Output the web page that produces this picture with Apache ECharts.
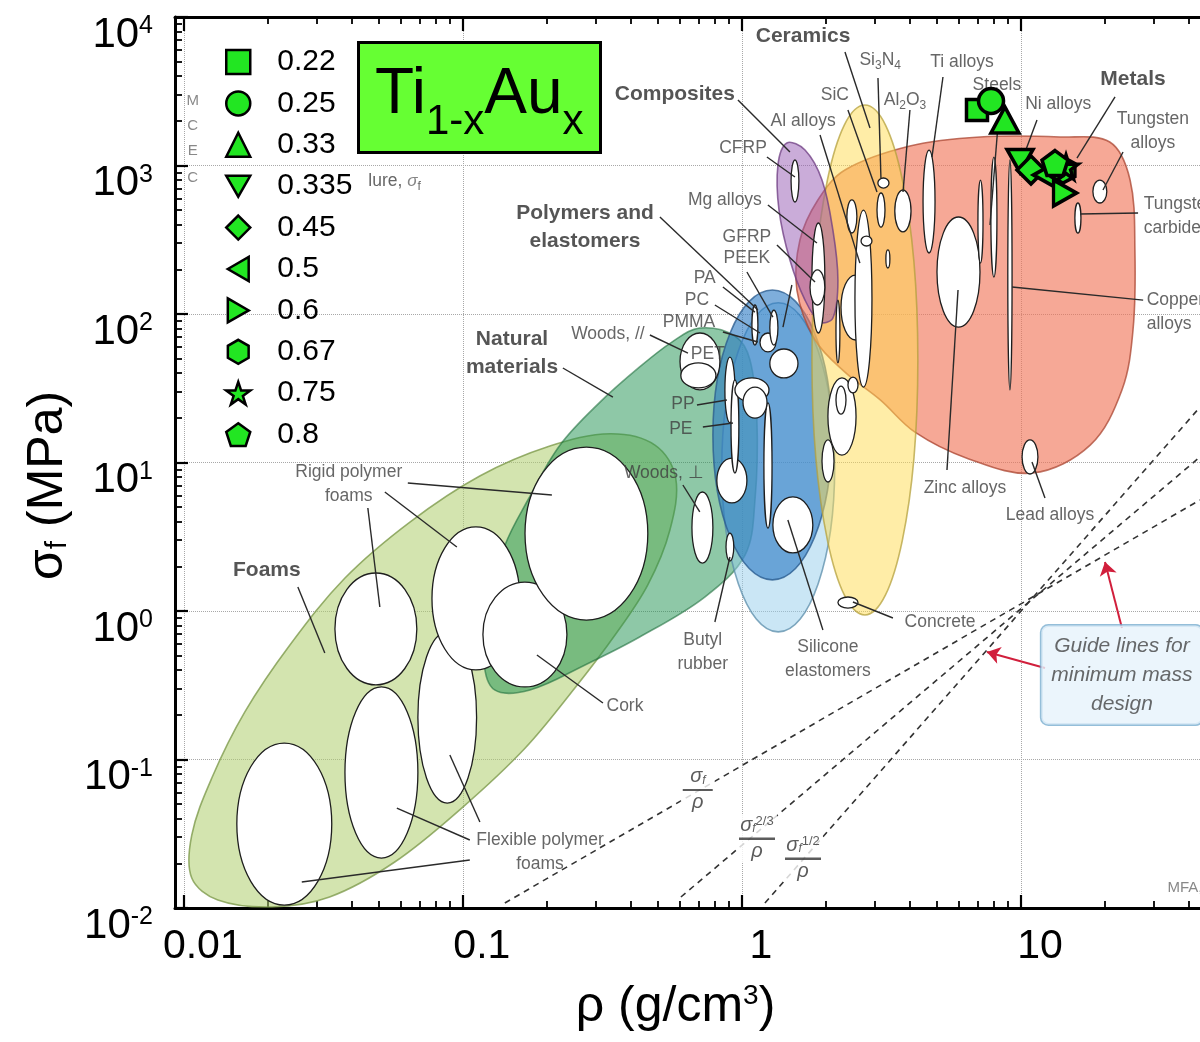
<!DOCTYPE html>
<html><head><meta charset="utf-8">
<script src="https://cdn.jsdelivr.net/npm/echarts@6/dist/echarts.min.js"></script>
<style>html,body{margin:0;padding:0;background:#fff}#c{width:1200px;height:1042px}</style>
</head><body><div id="c"></div>
<script>
const FONT = "'Liberation Sans', Arial, Helvetica, sans-serif";

// ---------- axes ----------
const X_MIN = 0.0093, X_MAX = 43.8, Y_MIN = 0.01, Y_MAX = 10000;
const xMajorTicks = [0.01, 0.1, 1, 10];
const xTickLabels = ['0.01', '0.1', '1', '10'];
const xMinorTicks = [0.02,0.03,0.04,0.05,0.06,0.07,0.08,0.09,0.2,0.3,0.4,0.5,0.6,0.7,0.8,0.9,2,3,4,5,6,7,8,9,20,30,40];
const yMajorTicks = [0.01, 0.1, 1, 10, 100, 1000, 10000];
const yTickExponents = ['-2', '-1', '0', '1', '2', '3', '4'];
const yMinorTicks = [0.02,0.03,0.04,0.05,0.06,0.07,0.08,0.09,0.2,0.3,0.4,0.5,0.6,0.7,0.8,0.9,2,3,4,5,6,7,8,9,
  20,30,40,50,60,70,80,90,200,300,400,500,600,700,800,900,2000,3000,4000,5000,6000,7000,8000,9000];

// ---------- Ti(1-x)Au(x) data ----------
const tiAuX = ['0.22', '0.25', '0.33', '0.335', '0.45', '0.5', '0.6', '0.67', '0.75', '0.8'];
const tiAuDensity = [6.956, 7.81, 8.76, 9.92, 10.86, 12.19, 14.38, 14.14, 14.50, 13.24];
const tiAuStrength = [2364, 2718, 2025, 1072, 932, 863, 653, 932, 977, 1039];

// ---------- material family envelopes (density, strength) ----------
const foamsEnvelope = [[0.488,13.1],[0.579,7.87],[0.552,3.51],[0.460,1.50],[0.351,0.689],[0.252,0.303],[0.167,0.119],
  [0.0991,0.0471],[0.0570,0.0204],[0.0333,0.01186],[0.0207,0.01016],[0.01324,0.01132],[0.01068,0.01592],[0.01068,0.0310],
  [0.01260,0.0750],[0.01655,0.209],[0.0240,0.590],[0.0378,1.667],[0.0646,3.97],[0.115,8.11],[0.205,12.9],[0.337,15.6]];
const naturalEnvelope = [[0.706,80.5],[0.944,71.1],[1.069,49.0],[1.132,19.3],[1.114,5.59],[1.026,2.38],[0.736,1.242],
  [0.430,0.668],[0.274,0.433],[0.174,0.294],[0.130,0.294],[0.119,0.468],[0.125,1.186],[0.1416,2.78],[0.171,5.59],
  [0.223,13.1],[0.310,25.5],[0.430,44.0],[0.561,64.7]];
const metalsEnvelope = [[1.574,145],[1.614,315],[1.871,586],[2.339,933],[4.00,1352],[7.13,1556],[13.8,1556],[20.8,1439],
  [24.6,798],[25.6,270],[25.2,78.0],[23.0,30.8],[17.7,13.1],[11.0,8.49],[6.40,10.7],[4.17,16.0],[3.13,26.4],[2.339,40.6],[1.828,66.8]];
const compositesEnvelope = [[1.449,1419],[1.683,1271],[1.936,798],[2.118,368],[2.208,169],[2.118,94.0],[1.905,88.3],
  [1.683,124],[1.486,231],[1.358,501],[1.346,1007]];
// ranges: [density low, density high, strength low, strength high]
const elastomersRange = [0.847, 2.15, 0.723, 119];
const polymersRange = [0.787, 2.10, 1.62, 145];
const ceramicsRange = [1.782, 4.27, 0.940, 2553];

// ---------- individual material bubbles [rhoLo, rhoHi, sigLo, sigHi] ----------
const materialBubbles = [
  [0.01549,0.0339,0.01047,0.129],[0.0378,0.0690,0.0217,0.308],[0.0690,0.112,0.0509,0.723],
  [0.0348,0.0684,0.318,1.803],[0.0775,0.160,0.401,3.68],[0.118,0.236,0.308,1.567],[0.167,0.460,0.869,12.7],
  [0.600,0.834,30.8,74.5],[0.604,0.807,31.8,46.8],[0.662,0.787,2.10,6.33],[0.877,0.935,2.17,3.35],
  [0.813,1.042,5.34,10.7],[1.291,1.795,2.46,5.86],[1.199,1.282,3.62,25.2],[0.869,0.944,18.5,51.3],[0.914,0.975,8.49,36.0],
  [1.259,1.588,37.1,58.1],[0.944,1.250,25.5,37.1],[1.009,1.230,19.9,32.2],[1.161,1.324,55.5,74.5],
  [1.086,1.141,61.8,115],[1.259,1.346,61.8,106],
  [1.500,1.600,568,1089],[1.782,1.982,74.5,410],[1.754,1.982,115,198],[2.265,2.877,66.8,183],[2.541,2.924,32.2,501],
  [2.377,2.582,351,586],[2.672,2.924,287,335],[3.048,3.256,385,653],[3.07,3.365,705,824],[3.53,4.036,357,684],
  [3.28,3.39,204,270],[2.033,2.564,11.2,37.1],[2.173,2.360,21.2,32.7],[1.936,2.138,7.39,14.2],[2.399,2.606,29.4,37.6],
  [2.173,2.244,46.8,124],[2.208,2.606,1.047,1.242],
  [4.457,4.92,258,1271],[5.00,7.13,81.7,450],[7.01,7.31,220,798],[7.80,8.20,177,1140],[8.97,9.29,30.8,1089],
  [18.1,20.3,559,798],[15.6,16.4,351,559],[10.09,11.5,8.37,14.2]
];

// ---------- labels [text, density, strength] ----------
const familyLabels = [
  ['Ceramics', 1.656, 7447], ['Composites', 0.575, 3030], ['Metals', 25.2, 3822],
  ['Polymers and\nelastomers', 0.274, 385], ['Natural\nmaterials', 0.150, 54.6], ['Foams', 0.01984, 1.888]
];
const materialLabels = [
  ['Si{s|3}N{s|4}', 3.13, 5129], ['Ti alloys', 6.15, 4977], ['SiC', 2.153, 2985], ['Al{s|2}O{s|3}', 3.84, 2761],
  ['Steels', 8.20, 3483], ['Al alloys', 1.656, 1995], ['Ni alloys', 13.6, 2594], ['Tungsten\nalloys', 29.7, 1708],
  ['CFRP', 1.009, 1312], ['Mg alloys', 0.869, 586], ['GFRP', 1.042, 330], ['PEEK', 1.042, 238], ['PA', 0.736, 175],
  ['PC', 0.690, 124], ['PMMA', 0.646, 88.3], ['Woods, //', 0.331, 73.3], ['PET', 0.755, 53.8], ['PP', 0.615, 24.8],
  ['PE', 0.604, 16.8], ['Woods, ⊥', 0.525, 8.49], ['Zinc alloys', 6.30, 6.73], ['Lead alloys', 12.7, 4.43],
  ['Concrete', 5.13, 0.843], ['Butyl\nrubber', 0.724, 0.530], ['Silicone\nelastomers', 2.033, 0.475], ['Cork', 0.381, 0.229],
  ['Rigid polymer\nfoams', 0.0390, 7.16], ['Flexible polymer\nfoams', 0.189, 0.0238]
];
const edgeLabels = [['Tungsten\ncarbide', 27.4, 457], ['Copper\nalloys', 28.1, 103], ['lure, {i|σ}{s|f}', 0.04566, 787]];
const remnantLetters = [['M', 0.01077, 2718], ['C', 0.01077, 1845], ['E', 0.01077, 1253], ['C', 0.01077, 824], ['MFA,', 38.7, 0.01365]];
const guideLabels = [
  ['{n|σ}{f|f}\n{bar|—}\n{n|ρ}', 0.695, 0.0624],
  ['{n|σ}{f|f}{p|2/3}\n{bar2|—}\n{n|ρ}', 1.132, 0.0296],
  ['{n|σ}{f|f}{p|1/2}\n{bar2|—}\n{n|ρ}', 1.656, 0.0217]
];
const guideBox = ['Guide lines for\nminimum mass\ndesign', 23.0, 0.371];

// ---------- leader lines, guide lines, arrows ----------
const leaderLines = [
  [[2.340,5812],[2.877,1788]], [[3.073,3884],[3.149,824]], [[2.398,2364],[3.048,663]], [[4.00,2364],[3.778,663]],
  [[5.253,3945],[4.797,1140]], [[8.273,1873],[7.743,397.5]], [[11.41,2025],[10.25,1177]], [[21.73,2893],[15.87,1123]],
  [[23.21,1233],[19.67,684]], [[16.27,471.6],[26.27,479]], [[0.9676,2761],[1.486,1233]], [[1.905,1605],[2.647,220]],
  [[1.229,1140],[1.549,836.8]], [[1.239,542],[1.857,300.8]], [[1.335,291.5],[1.828,164.2]], [[0.5083,450],[1.141,106.4]],
  [[0.8548,152],[1.113,103]], [[0.800,115],[1.161,74.5]], [[0.8548,75.6],[1.141,64.75]], [[1.042,191.8],[1.291,95.4]],
  [[1.510,156.8],[1.403,81.7]], [[0.468,72.2],[0.6406,54.6]], [[0.2282,43.3],[0.3449,27.6]], [[0.6898,24.39],[0.8835,26.36]],
  [[0.7245,17.35],[0.9284,18.45]], [[0.6144,7.055],[0.7063,4.642]], [[9.29,152],[27.4,124]], [[5.430,8.903],[5.948,145]],
  [[12.19,5.768],[10.95,10.08]], [[3.477,0.8973],[2.499,1.150]], [[0.800,0.843],[0.9057,2.310]], [[1.951,0.7449],[1.461,4.101]],
  [[0.3177,0.2401],[0.1842,0.5057]], [[0.0635,7.278],[0.2084,6.041]], [[0.05253,6.33],[0.09517,2.698]],
  [[0.04566,4.939],[0.05041,1.064]], [[0.02563,1.451],[0.03201,0.5214]], [[0.1059,0.02870],[0.05799,0.0471]],
  [[0.1151,0.03794],[0.08982,0.1072]], [[0.1059,0.02105],[0.02647,0.01496]]
];
const guideLines = [
  [[0.1414,0.01081],[43.8,5.59]],
  [[0.6045,0.01186],[43.8,10.9]],
  [[1.209,0.01081],[43.8,23.6]]
];
const redArrows = [[[12.19,0.4133],[7.551,0.5295]], [[23.0,0.7683],[20.00,2.138]]];

// ---------- styles ----------
const envelopeList = [
  {kind: 'poly', pts: foamsEnvelope, fill: 'rgba(175,205,110,0.55)', stroke: 'rgba(120,150,70,0.75)'},
  {kind: 'poly', pts: naturalEnvelope, fill: 'rgba(30,145,80,0.5)', stroke: 'rgba(30,110,60,0.6)'},
  {kind: 'range', r: elastomersRange, fill: 'rgba(150,205,235,0.5)', stroke: 'rgba(90,140,170,0.75)'},
  {kind: 'range', r: polymersRange, fill: 'rgba(40,120,195,0.6)', stroke: 'rgba(40,90,140,0.75)'},
  {kind: 'poly', pts: metalsEnvelope, fill: 'rgba(240,115,85,0.62)', stroke: 'rgba(170,70,50,0.75)'},
  {kind: 'range', r: ceramicsRange, fill: 'rgba(255,220,80,0.5)', stroke: 'rgba(180,160,60,0.75)'},
  {kind: 'poly', pts: compositesEnvelope, fill: 'rgba(150,90,180,0.5)', stroke: 'rgba(110,60,130,0.75)'}
];
const tiAuSymbols = ['rect', 'circle', 'triangle', 'path://M0,0 L100,0 L50,87 Z', 'diamond',
  'path://M0,50 L87,0 L87,100 Z', 'path://M0,0 L87,50 L0,100 Z',
  'path://M50,0 L93.3,25 L93.3,75 L50,100 L6.7,75 L6.7,25 Z',
  'path://M50,0 L61.8,35.1 L98.9,35.1 L68.8,56.8 L80.2,91.9 L50,70.2 L19.8,91.9 L31.2,56.8 L1.1,35.1 L38.2,35.1 Z',
  'path://M50,0 L97.6,34.5 L79.4,90.5 L20.6,90.5 L2.4,34.5 Z'];
const tiAuSizes = [[21,21], 25, [28,26], [26,23], [28,28], [23,26], [23,26], [24,26], [24,24], [26,25]];
const GREEN = '#22e622';
const LABEL_GRAY = '#404040';

function ellipseFromRange(api, r) {
  const a = api.coord([r[0], r[3]]);
  const b = api.coord([r[1], r[2]]);
  return {cx: (a[0] + b[0]) / 2, cy: (a[1] + b[1]) / 2, rx: Math.abs(b[0] - a[0]) / 2, ry: Math.abs(b[1] - a[1]) / 2};
}

const subRich = {s: {fontSize: 12, verticalAlign: 'bottom', lineHeight: 12, padding: [9, 0, 0, 0], fontFamily: FONT, color: LABEL_GRAY},
  i: {fontStyle: 'italic', fontSize: 17, fontFamily: FONT, color: '#666'}};

const labelPoint = (arr) => arr.map(l => ({name: l[0], value: [l[1], l[2]]}));

const series = [];
series.push({
  type: 'custom', name: 'envelopes', coordinateSystem: 'cartesian2d', silent: true, z: 1,
  data: envelopeList.map((e, i) => (e.kind === 'poly' ? e.pts[0] : [e.r[0], e.r[2]])),
  renderItem: function (params, api) {
    const e = envelopeList[params.dataIndex];
    const style = {fill: e.fill, stroke: e.stroke, lineWidth: 1.6};
    if (e.kind === 'poly') {
      return {type: 'polygon', shape: {points: e.pts.map(p => api.coord(p)), smooth: 0.35}, style};
    }
    return {type: 'ellipse', shape: ellipseFromRange(api, e.r), style};
  }
});
series.push({
  type: 'custom', name: 'bubbles', coordinateSystem: 'cartesian2d', silent: true, z: 2,
  encode: {x: [0, 1], y: [2, 3]},
  data: materialBubbles,
  renderItem: function (params, api) {
    const r = [api.value(0), api.value(1), api.value(2), api.value(3)];
    return {type: 'ellipse', shape: ellipseFromRange(api, r), style: {fill: '#fff', stroke: '#1e1e1e', lineWidth: 1.3}};
  }
});
series.push({
  type: 'lines', name: 'leaders', coordinateSystem: 'cartesian2d', silent: true, z: 3,
  data: leaderLines.map(c => ({coords: c})),
  lineStyle: {color: '#2a2a2a', width: 1.4, opacity: 1}
});
series.push({
  type: 'lines', name: 'guides', coordinateSystem: 'cartesian2d', silent: true, z: 3,
  data: guideLines.map(c => ({coords: c})),
  lineStyle: {color: '#333', width: 1.6, type: [6, 5], opacity: 1}
});
series.push({
  type: 'lines', name: 'arrows', coordinateSystem: 'cartesian2d', silent: true, z: 3,
  data: redArrows.map(c => ({coords: c})),
  symbol: ['none', 'arrow'], symbolSize: 13,
  lineStyle: {color: '#d11f3c', width: 2, opacity: 1}
});
const labelSeriesBase = {type: 'scatter', coordinateSystem: 'cartesian2d', silent: true, symbol: 'circle', symbolSize: 1, clip: false,
  itemStyle: {color: 'rgba(0,0,0,0)'}, emphasis: {disabled: true}};
series.push(Object.assign({}, labelSeriesBase, {
  name: 'familyLabels', z: 5, data: labelPoint(familyLabels),
  label: {show: true, position: 'inside', formatter: '{b}', fontFamily: FONT, fontSize: 21, fontWeight: 'bold', color: '#2b2b2b', lineHeight: 28}
}));
series.push(Object.assign({}, labelSeriesBase, {
  name: 'materialLabels', z: 5, data: labelPoint(materialLabels),
  label: {show: true, position: 'inside', formatter: '{b}', fontFamily: FONT, fontSize: 17.5, color: LABEL_GRAY, lineHeight: 24, rich: subRich}
}));
series.push(Object.assign({}, labelSeriesBase, {
  name: 'edgeLabels', z: 5, data: labelPoint(edgeLabels),
  label: {show: true, position: 'right', distance: 0, formatter: '{b}', fontFamily: FONT, fontSize: 17.5, color: LABEL_GRAY, lineHeight: 24, rich: subRich}
}));
series.push(Object.assign({}, labelSeriesBase, {
  name: 'remnants', z: 5, data: labelPoint(remnantLetters),
  label: {show: true, position: 'inside', formatter: '{b}', fontFamily: FONT, fontSize: 15, color: '#6a6a6a'}
}));
series.push(Object.assign({}, labelSeriesBase, {
  name: 'guideLabels', z: 5, data: labelPoint(guideLabels),
  label: {show: true, position: 'inside', formatter: '{b}', fontFamily: FONT, color: '#333', backgroundColor: '#fff', padding: [1, 2],
    rich: {
      n: {fontSize: 20, fontStyle: 'italic', fontFamily: FONT, color: '#333', lineHeight: 20},
      f: {fontSize: 12, fontStyle: 'italic', fontFamily: FONT, color: '#333', verticalAlign: 'bottom', lineHeight: 12, padding: [8, 0, 0, 0]},
      p: {fontSize: 13, fontFamily: FONT, color: '#333', verticalAlign: 'top', lineHeight: 13},
      bar: {fontSize: 30, lineHeight: 6, color: '#333', fontFamily: FONT},
      bar2: {fontSize: 36, lineHeight: 6, color: '#333', fontFamily: FONT}
    }}
}));
series.push(Object.assign({}, labelSeriesBase, {
  name: 'guideBox', z: 5, data: labelPoint([guideBox]),
  label: {show: true, position: 'inside', formatter: '{b}', fontFamily: FONT, fontSize: 21, fontStyle: 'italic', color: '#444', lineHeight: 29,
    backgroundColor: '#e6f3fb', borderColor: '#79aed0', borderWidth: 1.5, borderRadius: 7, padding: [6, 10, 6, 10]}
}));
tiAuX.forEach((name, i) => {
  series.push({
    type: 'scatter', name: name, coordinateSystem: 'cartesian2d', z: 10,
    symbol: tiAuSymbols[i], symbolSize: tiAuSizes[i],
    itemStyle: {color: GREEN, borderColor: '#000', borderWidth: 3.5, opacity: 1},
    data: [[tiAuDensity[i], tiAuStrength[i]]]
  });
});

function idxOf(ticks, v) {
  return ticks.findIndex(t => Math.abs(Math.log10(t) - Math.log10(v)) < 1e-6);
}

const baseX = {type: 'log', min: X_MIN, max: X_MAX, logBase: 10};
const baseY = {type: 'log', min: Y_MIN, max: Y_MAX, logBase: 10};
const option = {
  animation: false,
  backgroundColor: '#fff',
  textStyle: {fontFamily: FONT},
  grid: {left: 175, right: 0, top: 17, bottom: 134, containLabel: false},
  title: {
    text: '{m|Ti}{s|1-x}{m|Au}{s|x}', left: 358, top: 42, padding: [21, 17, 10, 17],
    backgroundColor: '#66ff33', borderColor: '#000', borderWidth: 3,
    textStyle: {fontWeight: 'normal', rich: {
      m: {fontSize: 64, lineHeight: 64, verticalAlign: 'top', fontFamily: FONT, color: '#000', fontWeight: 'normal'},
      s: {fontSize: 42, lineHeight: 42, verticalAlign: 'top', padding: [38, 0, 0, 0], fontFamily: FONT, color: '#000', fontWeight: 'normal'}
    }}
  },
  legend: {
    data: tiAuX, orient: 'vertical', left: 220, top: 42, itemWidth: 24, itemHeight: 24, itemGap: 11.4,
    selectedMode: false,
    itemStyle: {borderColor: '#000', borderWidth: 2.5},
    textStyle: {fontSize: 30, lineHeight: 30, color: '#000', fontFamily: FONT, padding: [0, 0, 0, 22]}
  },
  xAxis: [
    Object.assign({}, baseX, {
      position: 'bottom',
      axisLine: {show: true, lineStyle: {color: '#000', width: 3}},
      axisTick: {show: true, inside: true, length: 13, customValues: xMajorTicks, lineStyle: {color: '#000', width: 2.2}},
      axisLabel: {show: true, customValues: xMajorTicks, margin: 18, fontSize: 41, color: '#000', fontFamily: FONT,
        padding: [0, 0, 0, 38], formatter: v => { const i = idxOf(xMajorTicks, v); return i >= 0 ? xTickLabels[i] : ''; }},
      splitLine: {show: true, lineStyle: {color: '#a8a8a8', width: 1, type: 'dotted'}},
      name: '{a|ρ (g/cm}{e|3}{a|)}', nameLocation: 'middle', nameGap: 74,
      nameTextStyle: {padding: [0, 24, 0, 0], rich: {a: {fontSize: 50, color: '#000', fontFamily: FONT}, e: {fontSize: 28, color: '#000', verticalAlign: 'top', fontFamily: FONT}}}
    }),
    Object.assign({}, baseX, {
      position: 'bottom', axisLine: {show: false},
      axisTick: {show: true, inside: true, length: 7, customValues: xMinorTicks, lineStyle: {color: '#000', width: 1.8}},
      axisLabel: {show: false}, splitLine: {show: false}
    }),
    Object.assign({}, baseX, {
      position: 'top',
      axisLine: {show: true, lineStyle: {color: '#000', width: 3}},
      axisTick: {show: true, inside: true, length: 14, customValues: xMajorTicks, lineStyle: {color: '#000', width: 2.2}},
      axisLabel: {show: false}, splitLine: {show: false}
    }),
    Object.assign({}, baseX, {
      position: 'top', axisLine: {show: false},
      axisTick: {show: true, inside: true, length: 7, customValues: xMinorTicks, lineStyle: {color: '#000', width: 1.8}},
      axisLabel: {show: false}, splitLine: {show: false}
    })
  ],
  yAxis: [
    Object.assign({}, baseY, {
      position: 'left',
      axisLine: {show: true, lineStyle: {color: '#000', width: 3}},
      axisTick: {show: true, inside: true, length: 13, customValues: yMajorTicks, lineStyle: {color: '#000', width: 2.2}},
      axisLabel: {show: true, customValues: yMajorTicks, margin: 22, color: '#000', padding: [36, 0, 0, 0],
        formatter: v => { const i = idxOf(yMajorTicks, v); return i >= 0 ? '{b|10}{e|' + yTickExponents[i] + '}' : ''; },
        rich: {b: {fontSize: 42, lineHeight: 42, color: '#000', fontFamily: FONT},
               e: {fontSize: 25, lineHeight: 25, color: '#000', verticalAlign: 'top', fontFamily: FONT}}},
      splitLine: {show: true, lineStyle: {color: '#a8a8a8', width: 1, type: 'dotted'}},
      name: '{a|σ}{s|f}{a| (MPa)}', nameLocation: 'middle', nameGap: 100, nameRotate: 90,
      nameTextStyle: {padding: [0, 46, 0, 0], rich: {
        a: {fontSize: 50, color: '#000', fontFamily: FONT, lineHeight: 50},
        s: {fontSize: 30, color: '#000', fontFamily: FONT, verticalAlign: 'bottom', lineHeight: 30, padding: [24, 0, 0, 0]}}}
    }),
    Object.assign({}, baseY, {
      position: 'left', axisLine: {show: false},
      axisTick: {show: true, inside: true, length: 7, customValues: yMinorTicks, lineStyle: {color: '#000', width: 1.8}},
      axisLabel: {show: false}, splitLine: {show: false}
    })
  ],
  series: series
};

const chart = echarts.init(document.getElementById('c'), null, {renderer: 'canvas'});
chart.setOption(option);
</script></body></html>
